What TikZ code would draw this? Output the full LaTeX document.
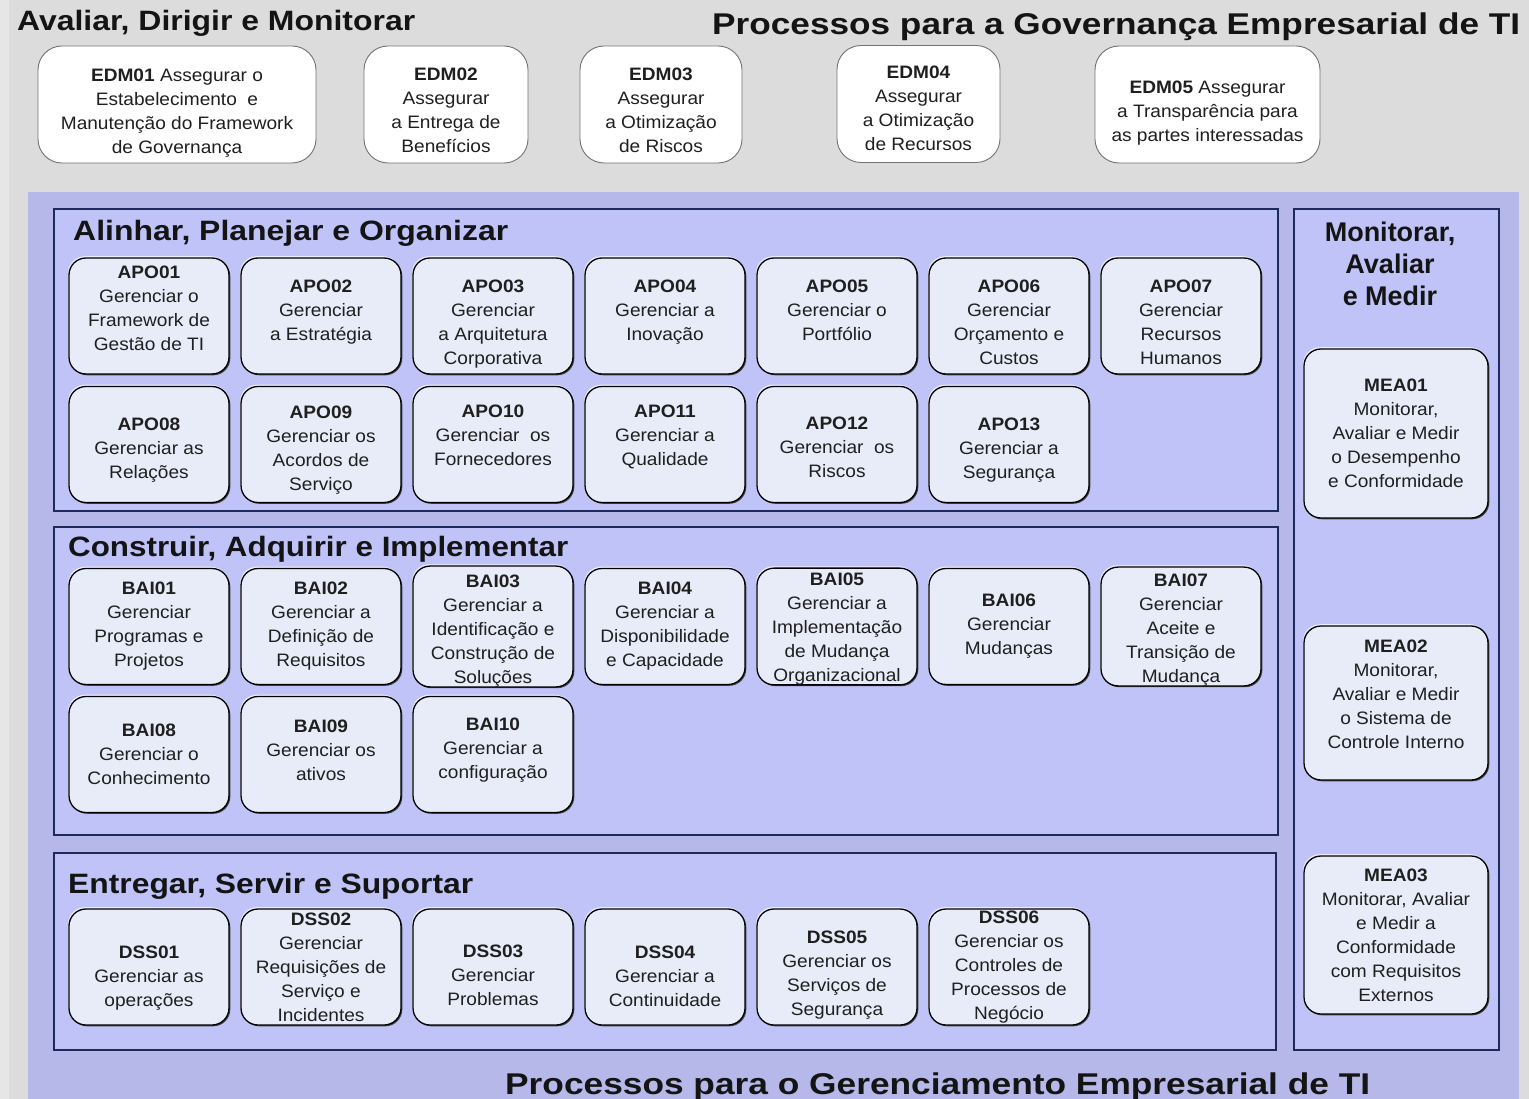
\documentclass[tikz,border=0pt]{standalone}
\usepackage{fontspec}
\usepackage{graphicx}
\setmainfont{Liberation Sans}
\newfontfamily\bxfont{Liberation Sans}[FakeStretch=1.06]
\usetikzlibrary{shadows}
\definecolor{bggray}{HTML}{DCDCDC}
\definecolor{edgegray}{HTML}{E6E6E6}
\definecolor{panel}{HTML}{B5B8E8}
\definecolor{domfill}{HTML}{C0C3F8}
\definecolor{domline}{HTML}{1E2A5E}
\definecolor{procfill}{HTML}{E8ECF8}
\newcommand\ttl[3]{\resizebox{#1}{\height}{\fontsize{#2}{#2}\selectfont\bfseries #3}}
% shift text down by #1 (first-line strut) / up by #1 (last-line strut)
\newcommand\dn[1]{\rule{0pt}{\dimexpr 13pt+#1pt+#1pt\relax}}
\newcommand\upp[1]{\rule[\dimexpr -4pt-#1pt-#1pt\relax]{0pt}{0pt}}
\begin{document}
\begin{tikzpicture}[x=1pt,y=-1pt,
  boxfont/.style={font=\bxfont\fontsize{18}{24}\selectfont},
  proc/.style={boxfont, draw=black, line width=1.3pt, fill=procfill,
    rounded corners=17pt, minimum width=160pt, minimum height=116pt,
    align=center, inner sep=0pt, text=black!88,
    general shadow={shadow xshift=-1pt, shadow yshift=1.8pt, fill=white, opacity=0.7},
    general shadow={shadow xshift=1.3pt, shadow yshift=-1.3pt, fill=black!75}},
  edmbox/.style={boxfont, draw=black!55, line width=0.9pt, fill=white,
    rounded corners=24pt, minimum height=117pt,
    align=center, inner sep=0pt, text=black!88},
  dombox/.style={draw=domline, line width=2pt, fill=domfill},
  ttlnode/.style={inner sep=0pt, text=black!92},
]
\useasboundingbox (0,0) rectangle (1529,1099);
% backgrounds
\fill[bggray] (0,0) rectangle (1529,1099);
\fill[edgegray] (0,0) rectangle (9,1099);
\fill[panel] (28,192) rectangle (1519,1099);
% domain containers
\draw[dombox] (54,209) rectangle (1278,511);
\draw[dombox] (54,527) rectangle (1278,835);
\draw[dombox] (54,853) rectangle (1276,1050);
\draw[dombox] (1294,209) rectangle (1499,1050);

% titles
\node[ttlnode, anchor=base west] (tedm) at (17,31) {\ttl{398pt}{28}{Avaliar, Dirigir e Monitorar}};
\node[ttlnode, anchor=base west] (tgov) at (712,35) {\ttl{808pt}{30}{Processos para a Governança Empresarial de TI}};
\node[ttlnode, anchor=base west] (tapo) at (73,241) {\ttl{435pt}{28}{Alinhar, Planejar e Organizar}};
\node[ttlnode, anchor=base west] (tbai) at (68,556) {\ttl{500pt}{28}{Construir, Adquirir e Implementar}};
\node[ttlnode, anchor=base west] (tdss) at (68,893) {\ttl{405pt}{28}{Entregar, Servir e Suportar}};
\node[ttlnode, anchor=base west] (tger) at (505,1094) {\ttl{865pt}{30}{Processos para o Gerenciamento Empresarial de TI}};
\node[ttlnode, align=center, font=\fontsize{27}{32}\selectfont\bfseries] (tmea) at (1390,264) {Monitorar,\\Avaliar\\e Medir};

% EDM
\node[edmbox, minimum width=278pt] (edm01) at (177,104.5) {\dn{8}\textbf{EDM01} Assegurar o\\Estabelecimento~ e\\Manutenção do Framework\\de Governança};
\node[edmbox, minimum width=164pt] (edm02) at (446,104.5) {\dn{6}\textbf{EDM02}\\Assegurar\\a Entrega de\\Benefícios};
\node[edmbox, minimum width=162pt] (edm03) at (661,104.5) {\dn{6}\textbf{EDM03}\\Assegurar\\a Otimização\\de Riscos};
\node[edmbox, minimum width=163pt] (edm04) at (918.5,104) {\dn{4}\textbf{EDM04}\\Assegurar\\a Otimização\\de Recursos};
\node[edmbox, minimum width=225pt] (edm05) at (1207.5,104.5) {\dn{8}\textbf{EDM05} Assegurar\\a Transparência para\\as partes interessadas};

% APO row 1
\node[proc] (apo01) at (149,316) {\textbf{APO01}\\Gerenciar o\\Framework de\\Gestão de TI\upp{6}};
\node[proc] (apo02) at (321,316) {\textbf{APO02}\\Gerenciar\\a Estratégia\upp{4}};
\node[proc] (apo03) at (493,316) {\dn{8}\textbf{APO03}\\Gerenciar\\a Arquitetura\\Corporativa};
\node[proc] (apo04) at (665,316) {\textbf{APO04}\\Gerenciar a\\Inovação\upp{4}};
\node[proc] (apo05) at (837,316) {\textbf{APO05}\\Gerenciar o\\Portfólio\upp{4}};
\node[proc] (apo06) at (1009,316) {\dn{6}\textbf{APO06}\\Gerenciar\\Orçamento e\\Custos};
\node[proc] (apo07) at (1181,316) {\dn{6}\textbf{APO07}\\Gerenciar\\Recursos\\Humanos};
% APO row 2
\node[proc] (apo08) at (149,444.5) {\dn{5}\textbf{APO08}\\Gerenciar as\\Relações};
\node[proc] (apo09) at (321,444.5) {\dn{5}\textbf{APO09}\\Gerenciar os\\Acordos de\\Serviço};
\node[proc] (apo10) at (493,444.5) {\textbf{APO10}\\Gerenciar~ os\\Fornecedores\upp{7}};
\node[proc] (apo11) at (665,444.5) {\textbf{APO11}\\Gerenciar a\\Qualidade\upp{7}};
\node[proc] (apo12) at (837,444.5) {\dn{3}\textbf{APO12}\\Gerenciar~ os\\Riscos};
\node[proc] (apo13) at (1009,444.5) {\dn{5}\textbf{APO13}\\Gerenciar a\\Segurança};

% BAI row 1
\node[proc] (bai01) at (149,626.5) {\textbf{BAI01}\\Gerenciar\\Programas e\\Projetos};
\node[proc] (bai02) at (321,626.5) {\textbf{BAI02}\\Gerenciar a\\Definição de\\Requisitos};
\node[proc] (bai03) at (493,626.5) {\dn{4}\textbf{BAI03}\\Gerenciar a\\Identificação e\\Construção de\\Soluções};
\node[proc] (bai04) at (665,626.5) {\textbf{BAI04}\\Gerenciar a\\Disponibilidade\\e Capacidade};
\node[proc] (bai05) at (837,626.5) {\dn{2}\textbf{BAI05}\\Gerenciar a\\Implementação\\de Mudança\\Organizacional};
\node[proc] (bai06) at (1009,626.5) {\textbf{BAI06}\\Gerenciar\\Mudanças};
\node[proc] (bai07) at (1181,626.5) {\dn{3}\textbf{BAI07}\\Gerenciar\\Aceite e\\Transição de\\Mudança};
% BAI row 2
\node[proc] (bai08) at (149,754.5) {\textbf{BAI08}\\Gerenciar o\\Conhecimento};
\node[proc] (bai09) at (321,754.5) {\textbf{BAI09}\\Gerenciar os\\ativos\upp{2}};
\node[proc] (bai10) at (493,754.5) {\textbf{BAI10}\\Gerenciar a\\configuração\upp{4}};

% DSS
\node[proc] (dss01) at (149,967) {\dn{11}\textbf{DSS01}\\Gerenciar as\\operações};
\node[proc] (dss02) at (321,967) {\textbf{DSS02}\\Gerenciar\\Requisições de\\Serviço e\\Incidentes};
\node[proc] (dss03) at (493,967) {\dn{8}\textbf{DSS03}\\Gerenciar\\Problemas};
\node[proc] (dss04) at (665,967) {\dn{9}\textbf{DSS04}\\Gerenciar a\\Continuidade};
\node[proc] (dss05) at (837,967) {\dn{8}\textbf{DSS05}\\Gerenciar os\\Serviços de\\Segurança};
\node[proc] (dss06) at (1009,967) {\textbf{DSS06}\\Gerenciar os\\Controles de\\Processos de\\Negócio};

% MEA
\node[proc, minimum width=184pt, minimum height=169pt] (mea01) at (1396,433.5) {\textbf{MEA01}\\Monitorar,\\Avaliar e Medir\\o Desempenho\\e Conformidade};
\node[proc, minimum width=184pt, minimum height=154pt] (mea02) at (1396,703) {\textbf{MEA02}\\Monitorar,\\Avaliar e Medir\\o Sistema de\\Controle Interno\upp{7}};
\node[proc, minimum width=184pt, minimum height=158pt] (mea03) at (1396,935) {\textbf{MEA03}\\Monitorar, Avaliar\\e Medir a\\Conformidade\\com Requisitos\\Externos};
\end{tikzpicture}
\end{document}
